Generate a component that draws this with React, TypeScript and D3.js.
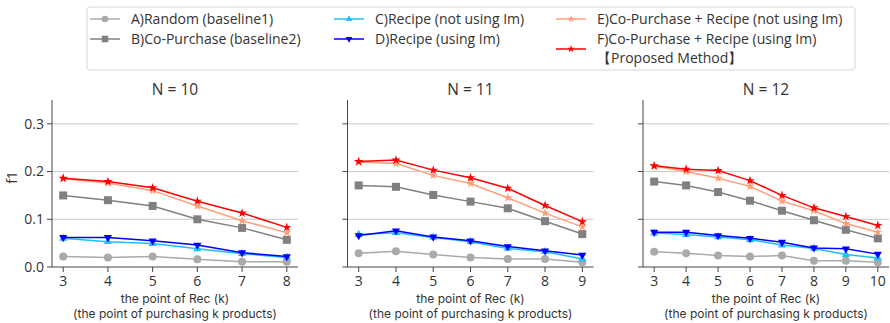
import * as d3 from "d3";

const W = 890;
const H = 323;

const panelTitles = ["N = 10", "N = 11", "N = 12"];
const panelKs = [
  [3, 4, 5, 6, 7, 8],
  [3, 4, 5, 6, 7, 8, 9],
  [3, 4, 5, 6, 7, 8, 9, 10],
];
const yTicks = [0, 0.1, 0.2, 0.3];

const seriesNames = [
  "A)Random (baseline1)",
  "B)Co-Purchase (baseline2)",
  "C)Recipe (not using Im)",
  "D)Recipe (using Im)",
  "E)Co-Purchase + Recipe (not using Im)",
  "F)Co-Purchase + Recipe (using Im)",
];

// values per panel: N = 10, 11, 12
const randomVals = [
  [0.022, 0.02, 0.022, 0.016, 0.011, 0.011],
  [0.029, 0.033, 0.026, 0.02, 0.017, 0.017, 0.01],
  [0.032, 0.029, 0.024, 0.022, 0.024, 0.013, 0.013, 0.01],
];
const coPurchaseVals = [
  [0.15, 0.14, 0.128, 0.1, 0.082, 0.057],
  [0.171, 0.168, 0.151, 0.137, 0.123, 0.096, 0.069],
  [0.179, 0.171, 0.157, 0.139, 0.118, 0.098, 0.078, 0.06],
];
const recipeNoImVals = [
  [0.06, 0.053, 0.049, 0.038, 0.028, 0.02],
  [0.068, 0.072, 0.062, 0.053, 0.039, 0.032, 0.017],
  [0.071, 0.068, 0.063, 0.057, 0.046, 0.039, 0.026, 0.019],
];
const recipeImVals = [
  [0.062, 0.062, 0.055, 0.046, 0.03, 0.022],
  [0.066, 0.076, 0.063, 0.055, 0.043, 0.034, 0.025],
  [0.073, 0.073, 0.066, 0.06, 0.052, 0.04, 0.038, 0.027],
];
const bothNoImVals = [
  [0.185, 0.176, 0.16, 0.128, 0.097, 0.072],
  [0.22, 0.217, 0.192, 0.175, 0.145, 0.113, 0.084],
  [0.211, 0.2, 0.186, 0.169, 0.138, 0.118, 0.091, 0.073],
];
const bothImVals = [
  [0.186, 0.179, 0.166, 0.138, 0.113, 0.083],
  [0.221, 0.224, 0.203, 0.187, 0.165, 0.129, 0.095],
  [0.212, 0.205, 0.202, 0.181, 0.15, 0.124, 0.106, 0.087],
];

const seriesVals = [randomVals, coPurchaseVals, recipeNoImVals, recipeImVals, bothNoImVals, bothImVals];
const colors = ["#aaaaaa", "#808080", "#1ec0f5", "#0000ff", "#ffa07a", "#ff0000"];
const markers = ["circle", "square", "triangle", "triangleDown", "star", "star"];

const font = "'Open Sans', 'Noto Sans', sans-serif";
const textColor = "#333";

const panelLefts = [52, 347.5, 643];
const panelWidth = 246;
const top = 100;
const bottom = 267;

function Marker({ type, x, y, color, s }: any) {
  // s = nominal marker width in px
  if (type === "circle") return <circle cx={x} cy={y} r={s / 2} fill={color} />;
  if (type === "square") {
    return <rect x={x - s / 2} y={y - s / 2} width={s} height={s} fill={color} />;
  }
  const symType = type === "star" ? d3.symbolStar : d3.symbolTriangle;
  const area = type === "star" ? s * s * 0.42 : s * s * 0.45;
  const path = d3.symbol().type(symType).size(area)();
  const rot = type === "triangleDown" ? 180 : 0;
  return <path d={path} transform={`translate(${x},${y}) rotate(${rot})`} fill={color} />;
}

function Panel({ idx }: { idx: number }) {
  const ks = panelKs[idx];
  const left = panelLefts[idx];
  const pad = (ks[ks.length - 1] - ks[0]) * 0.05;
  const x = d3
    .scaleLinear()
    .domain([ks[0] - pad, ks[ks.length - 1] + pad])
    .range([left, left + panelWidth]);
  const y = d3.scaleLinear().domain([0, 0.35]).range([bottom, top]);
  const line = d3
    .line<number>()
    .x((_, i) => x(ks[i]))
    .y((d) => y(d));
  const cx = left + panelWidth / 2;
  return (
    <g>
      {yTicks.slice(1).map((t) => (
        <line key={t} x1={left} x2={left + panelWidth} y1={y(t)} y2={y(t)} stroke="#c8c8c8" strokeWidth={1} />
      ))}
      {seriesVals.map((sv, si) => (
        <g key={si}>
          <path d={line(sv[idx]) || ""} fill="none" stroke={colors[si]} strokeWidth={1.5} />
          {sv[idx].map((v, i) => (
            <Marker key={i} type={markers[si]} x={x(ks[i])} y={y(v)} color={colors[si]} s={8} />
          ))}
        </g>
      ))}
      <line x1={left} x2={left} y1={top} y2={bottom} stroke="#444" strokeWidth={1} />
      <line x1={left} x2={left + panelWidth} y1={bottom} y2={bottom} stroke="#444" strokeWidth={1} />
      {yTicks.map((t) => (
        <g key={t}>
          <line x1={left - 5} x2={left} y1={y(t)} y2={y(t)} stroke="#444" />
          {idx === 0 && (
            <text x={left - 8} y={y(t)} dy="0.35em" textAnchor="end" fontSize={14} fill={textColor}>
              {t.toFixed(1)}
            </text>
          )}
        </g>
      ))}
      {ks.map((k) => (
        <g key={k}>
          <line x1={x(k)} x2={x(k)} y1={bottom} y2={bottom + 5} stroke="#444" />
          <text x={x(k)} y={bottom + 14} dy="0.35em" textAnchor="middle" fontSize={14} fill={textColor}>
            {k}
          </text>
        </g>
      ))}
      <text x={cx} y={90} dy="0.35em" textAnchor="middle" fontSize={15.5} fill={textColor}>
        {panelTitles[idx]}
      </text>
      <text
        x={cx}
        y={298.5}
        dy="0.35em"
        textAnchor="middle"
        fontSize={12}
        fontFamily="Inter, sans-serif"
        fill={textColor}
      >
        the point of Rec (k)
      </text>
      <text
        x={cx}
        y={313.5}
        dy="0.35em"
        textAnchor="middle"
        fontSize={12}
        fontFamily="Inter, sans-serif"
        fill={textColor}
      >
        (the point of purchasing k products)
      </text>
    </g>
  );
}

function Legend() {
  const items = [
    { i: 0, lx: 90, ty: 19 },
    { i: 1, lx: 90, ty: 39 },
    { i: 2, lx: 334, ty: 19 },
    { i: 3, lx: 334, ty: 39 },
    { i: 4, lx: 556, ty: 19 },
    { i: 5, lx: 556, ty: 39 },
  ];
  return (
    <g>
      <rect x={87} y={7} width={768} height={63} rx={3} fill="white" stroke="#d8d8d8" strokeWidth={1} />
      {items.map(({ i, lx, ty }) => {
        const my = i === 5 ? 49 : ty;
        return (
          <g key={i}>
            <line x1={lx} x2={lx + 30} y1={my} y2={my} stroke={colors[i]} strokeWidth={1.5} />
            <Marker type={markers[i]} x={lx + 15} y={my} color={colors[i]} s={6.5} />
            <text x={lx + 41} y={ty} dy="0.35em" fontSize={14} fill={textColor}>
              {seriesNames[i]}
            </text>
          </g>
        );
      })}
      <text x={597} y={58.5} dy="0.35em" fontSize={14} fill={textColor}>
        【Proposed Method】
      </text>
    </g>
  );
}

export default function App() {
  return (
    <svg
      width={W}
      height={H}
      style={{ position: "absolute", left: 0, top: 0, fontFamily: font, background: "white" }}
    >
      <rect width={W} height={H} fill="white" />
      {panelTitles.map((_, i) => (
        <Panel key={i} idx={i} />
      ))}
      <text
        transform={`translate(12,${(top + bottom) / 2 - 6}) rotate(-90)`}
        textAnchor="middle"
        dy="0.35em"
        fontSize={14}
        fill={textColor}
      >
        f1
      </text>
      <Legend />
    </svg>
  );
}
